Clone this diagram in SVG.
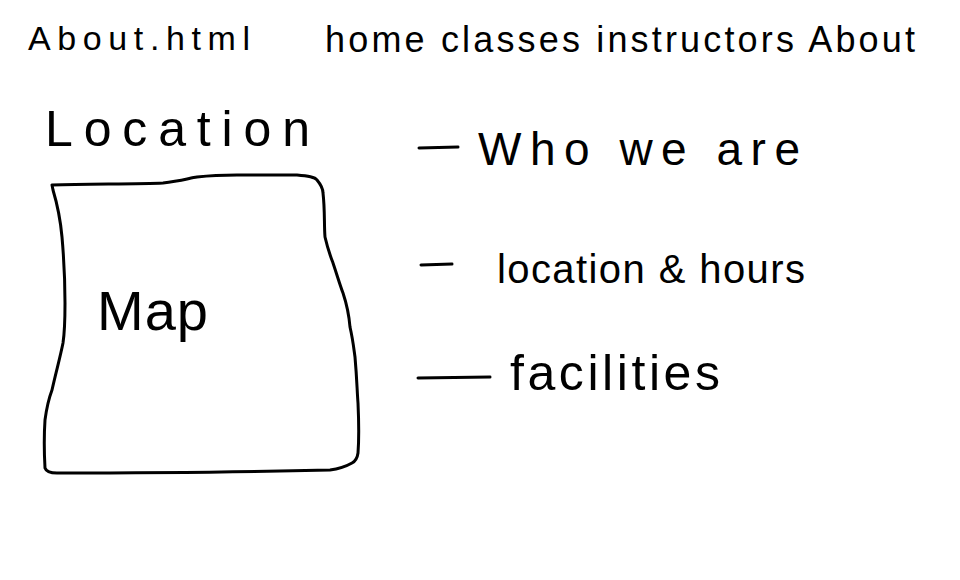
<svg xmlns="http://www.w3.org/2000/svg" width="960" height="580" viewBox="0 0 960 580">
<style>
.t{font-family:"Liberation Sans","DejaVu Sans",sans-serif;fill:#000;}
.s{fill:none;stroke:#000;stroke-width:3;stroke-linecap:round;stroke-linejoin:round;}
</style>
<rect width="960" height="580" fill="#fff"/>
<g id="header">
<text class="t" x="28" y="50" font-size="34" textLength="222" lengthAdjust="spacing">About.html</text>
<text class="t" x="325" y="52" font-size="36" textLength="590" lengthAdjust="spacing">home classes instructors About</text>
</g>
<g id="location">
<text class="t" x="45" y="146" font-size="50" textLength="265" lengthAdjust="spacing">Location</text>
<path class="s" d="M52,185 C90,184 140,184 163,183 C180,181 190,178 197,177 C215,175 230,175 237,175 C260,175 285,175 297,175 C308,176 315,177 317,180 C322,186 323,190 323,193 C325,210 324,225 325,237 C328,250 330,255 333,263 C338,278 340,285 343,293 C347,305 349,315 350,327 C353,340 354,350 355,357 C357,380 357,390 358,403 C359,425 359,440 358,453 C357,460 354,462 352,463 C345,467 338,469 330,470 C250,472 120,473 57,473 C50,473 46,471 45,468 C44,450 44,435 45,420 C47,405 49,398 52,390 C56,372 60,358 63,343 C65,330 65,318 65,303 C65,280 64,260 62,237 C60,215 56,200 53,190 Z"/>
<text class="t" x="97" y="330" font-size="56" textLength="111" lengthAdjust="spacing">Map</text>
</g>
<g id="menu">
<path class="s" d="M419,148 L458,147"/>
<text class="t" x="478" y="165" font-size="46" textLength="322" lengthAdjust="spacing">Who we are</text>
<path class="s" d="M421,265 L452,264"/>
<text class="t" x="497" y="283" font-size="40" textLength="308" lengthAdjust="spacing">location &amp; hours</text>
<path class="s" d="M418,378 L490,377"/>
<text class="t" x="510" y="390" font-size="50" textLength="210" lengthAdjust="spacing">facilities</text>
</g>
</svg>
